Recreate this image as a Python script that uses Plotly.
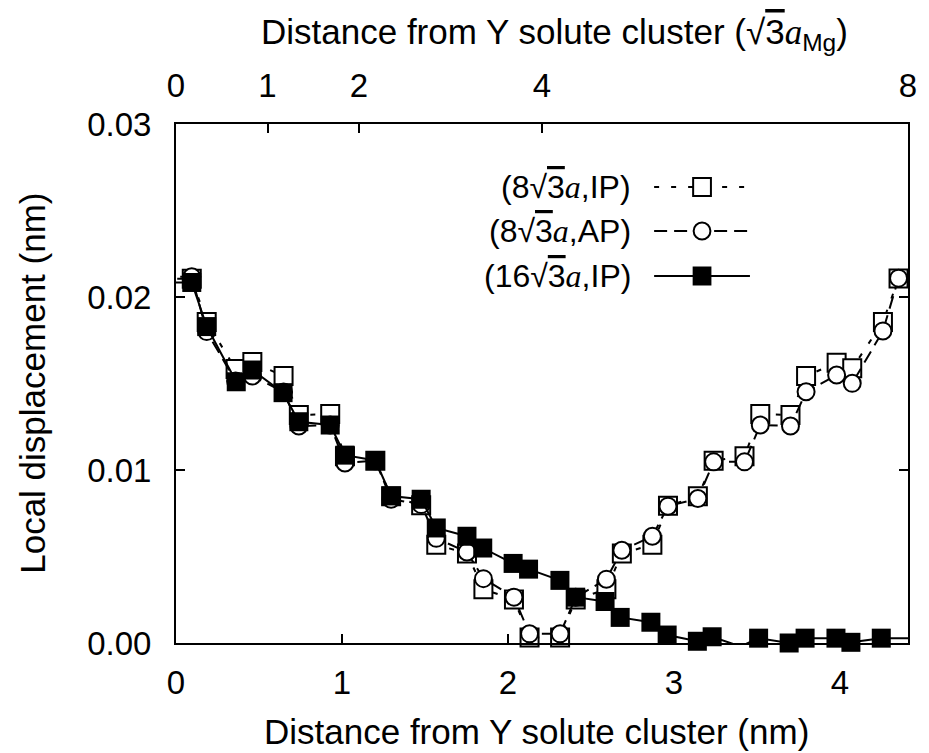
import plotly.graph_objects as go

# ---------------- data (nm, nm) ----------------
# (8√3a, IP) and (8√3a, AP) share the same sampling positions
x_8 = [-0.095, 0.095, 0.185, 0.359, 0.460, 0.648, 0.740, 0.929, 1.018, 1.201, 1.296,
       1.477, 1.568, 1.753, 1.852, 2.036, 2.130, 2.314, 2.408, 2.593, 2.686, 2.870,
       2.964, 3.144, 3.239, 3.425, 3.520, 3.702, 3.796, 3.980, 4.074, 4.259, 4.353, 4.543]
y_8_ip = [0.02105, 0.02105, 0.01856, 0.01584, 0.01624, 0.01543, 0.01318, 0.01323, 0.01080,
          0.01053, 0.00848, 0.00796, 0.00568, 0.00518, 0.00310, 0.00252, 0.00032, 0.00032,
          0.00252, 0.00310, 0.00518, 0.00568, 0.00793, 0.00848, 0.01053, 0.01080, 0.01323,
          0.01318, 0.01543, 0.01620, 0.01588, 0.01856, 0.02107, 0.02107]
y_8_ap = [0.02117, 0.02117, 0.01800, 0.01514, 0.01543, 0.01451, 0.01254, 0.01260, 0.01041,
          0.01054, 0.00831, 0.00800, 0.00605, 0.00526, 0.00372, 0.00265, 0.00053, 0.00053,
          0.00264, 0.00369, 0.00536, 0.00617, 0.00791, 0.00835, 0.01047, 0.01047, 0.01260,
          0.01254, 0.01452, 0.01549, 0.01501, 0.01804, 0.02109, 0.02109]
# (16√3a, IP)
x_16 = [-0.095, 0.095, 0.185, 0.363, 0.460, 0.645, 0.740, 0.929, 1.018, 1.201, 1.296,
        1.477, 1.568, 1.753, 1.848, 2.031, 2.124, 2.313, 2.408, 2.585, 2.676, 2.861,
        2.959, 3.141, 3.230, 3.401, 3.510, 3.694, 3.790, 3.976, 4.066, 4.249, 4.500]
y_16_ip = [0.02084, 0.02084, 0.01829, 0.01510, 0.01578, 0.01447, 0.01279, 0.01260, 0.01086,
           0.01055, 0.00850, 0.00831, 0.00665, 0.00617, 0.00549, 0.00460, 0.00427, 0.00362,
           0.00265, 0.00240, 0.00148, 0.00120, 0.00046, 0.00010, 0.00036, -0.00020, 0.00028,
           0.00000, 0.00028, 0.00028, 0.00004, 0.00028, 0.00028]

series_names = ["(8√3a,IP)", "(8√3a,AP)", "(16√3a,IP)"]
x_ticks = [0, 1, 2, 3, 4]
y_ticks = [0.00, 0.01, 0.02, 0.03]
top_ticks = [0, 1, 2, 4, 8]

X_RANGE = [0, 4.41]
Y_RANGE = [0, 0.03]
TOP_RANGE = [0, 8]

FONT = "Liberation Sans, Arial, Helvetica, sans-serif"
SERIF = "Liberation Serif"
TICK_SIZE = 33
TITLE_SIZE = 35
LEGEND_SIZE = 32

# plot area in pixels
L, R, T, B = 176, 12, 124, 110
W, H = 929, 753
PW, PH = W - L - R, H - T - B


def px(xp):
    return (xp - L) / PW


def py(yp):
    return (H - B - yp) / PH


def sizes(xs, ys, s):
    # gnuplot does not draw points that fall outside the axis ranges
    return [s if (X_RANGE[0] <= x <= X_RANGE[1] and Y_RANGE[0] <= y <= Y_RANGE[1]) else 0
            for x, y in zip(xs, ys)]


fig = go.Figure()

fig.add_trace(go.Scatter(
    x=x_8, y=y_8_ip, mode="lines+markers", name=series_names[0], cliponaxis=False,
    line=dict(color="black", width=2, dash="5px,12px"),
    marker=dict(symbol="square", size=sizes(x_8, y_8_ip, 18), color="white", opacity=1,
                line=dict(color="black", width=2)),
    showlegend=False))

fig.add_trace(go.Scatter(
    x=x_8, y=y_8_ap, mode="lines+markers", name=series_names[1], cliponaxis=False,
    line=dict(color="black", width=2, dash="13px,7px"),
    marker=dict(symbol="circle", size=sizes(x_8, y_8_ap, 17), color="white", opacity=1,
                line=dict(color="black", width=2)),
    showlegend=False))

fig.add_trace(go.Scatter(
    x=x_16, y=y_16_ip, mode="lines+markers", name=series_names[2], cliponaxis=False,
    line=dict(color="black", width=2),
    marker=dict(symbol="square", size=sizes(x_16, y_16_ip, 19), color="black", opacity=1,
                line=dict(width=0)),
    showlegend=False))

# empty trace so that the top axis is rendered
fig.add_trace(go.Scatter(x=top_ticks, y=[None] * len(top_ticks), xaxis="x2",
                         mode="markers", showlegend=False, hoverinfo="skip"))

axis_common = dict(showgrid=False, zeroline=False, showline=True, linecolor="black",
                   linewidth=2, ticks="inside", ticklen=9, tickwidth=1.5,
                   tickcolor="black",
                   tickfont=dict(family=FONT, size=TICK_SIZE, color="black"))

fig.update_layout(
    width=W, height=H,
    margin=dict(l=L, r=R, t=T, b=B, pad=0),
    paper_bgcolor="white", plot_bgcolor="white",
    font=dict(family=FONT, color="black"),
    xaxis=dict(range=X_RANGE, tickvals=x_ticks, ticktext=[str(v) for v in x_ticks],
               mirror=False, ticklabelstandoff=9, **axis_common),
    xaxis2=dict(range=TOP_RANGE, tickvals=top_ticks, ticktext=[str(v) for v in top_ticks],
                overlaying="x", side="top", anchor="y", ticklabelstandoff=12,
                **axis_common),
    yaxis=dict(range=Y_RANGE, tickvals=y_ticks, ticktext=[f"{v:.2f}" for v in y_ticks],
               mirror="ticks", ticklabelstandoff=16, **axis_common),
)

sqrt3 = "√<span style='text-decoration:overline'>3</span>"
ital_a = f"<span style='font-family:{SERIF}'><i>a</i></span>"

annotations = [
    dict(text="Distance from Y solute cluster (nm)", x=px(541), y=py(731),
         font=dict(size=TITLE_SIZE)),
    dict(text="Local displacement (nm)", x=px(30), y=py(383), textangle=-90,
         font=dict(size=TITLE_SIZE)),
    dict(text=f"Distance from Y solute cluster ({sqrt3}{ital_a}<sub>Mg</sub>)",
         x=px(559), y=py(34), font=dict(size=TITLE_SIZE)),
]

legend_rows = [187, 231, 276]
legend_texts = [f"(8{sqrt3}{ital_a},IP)", f"(8{sqrt3}{ital_a},AP)",
                f"(16{sqrt3}{ital_a},IP)"]
for yy, txt in zip(legend_rows, legend_texts):
    annotations.append(dict(text=txt, x=px(639), y=py(yy), xanchor="right",
                            font=dict(size=LEGEND_SIZE)))

for a in annotations:
    a.setdefault("xanchor", "center")
    a.update(xref="paper", yref="paper", showarrow=False, yanchor="middle")
    a["font"].update(family=FONT, color="black")
fig.update_layout(annotations=annotations)

# legend samples (decoration)
shapes = []
lx0, lx1, lxc = 660, 757, 708.5
dashes = ["5px,12px", "13px,7px", "solid"]
for yy, d in zip(legend_rows, dashes):
    shapes.append(dict(type="line", xref="paper", yref="paper",
                       x0=px(lx0), x1=px(lx1), y0=py(yy), y1=py(yy),
                       line=dict(color="black", width=2, dash=d)))
shapes.append(dict(type="rect", xref="paper", yref="paper",
                   x0=px(lxc - 9), x1=px(lxc + 9), y0=py(legend_rows[0] + 9),
                   y1=py(legend_rows[0] - 9), fillcolor="white",
                   line=dict(color="black", width=2)))
shapes.append(dict(type="circle", xref="paper", yref="paper",
                   x0=px(lxc - 8.5), x1=px(lxc + 8.5), y0=py(legend_rows[1] + 8.5),
                   y1=py(legend_rows[1] - 8.5), fillcolor="white",
                   line=dict(color="black", width=2)))
shapes.append(dict(type="rect", xref="paper", yref="paper",
                   x0=px(lxc - 9.5), x1=px(lxc + 9.5), y0=py(legend_rows[2] + 9.5),
                   y1=py(legend_rows[2] - 9.5), fillcolor="black",
                   line=dict(color="black", width=0)))
fig.update_layout(shapes=shapes)

fig.write_html("out.html")
